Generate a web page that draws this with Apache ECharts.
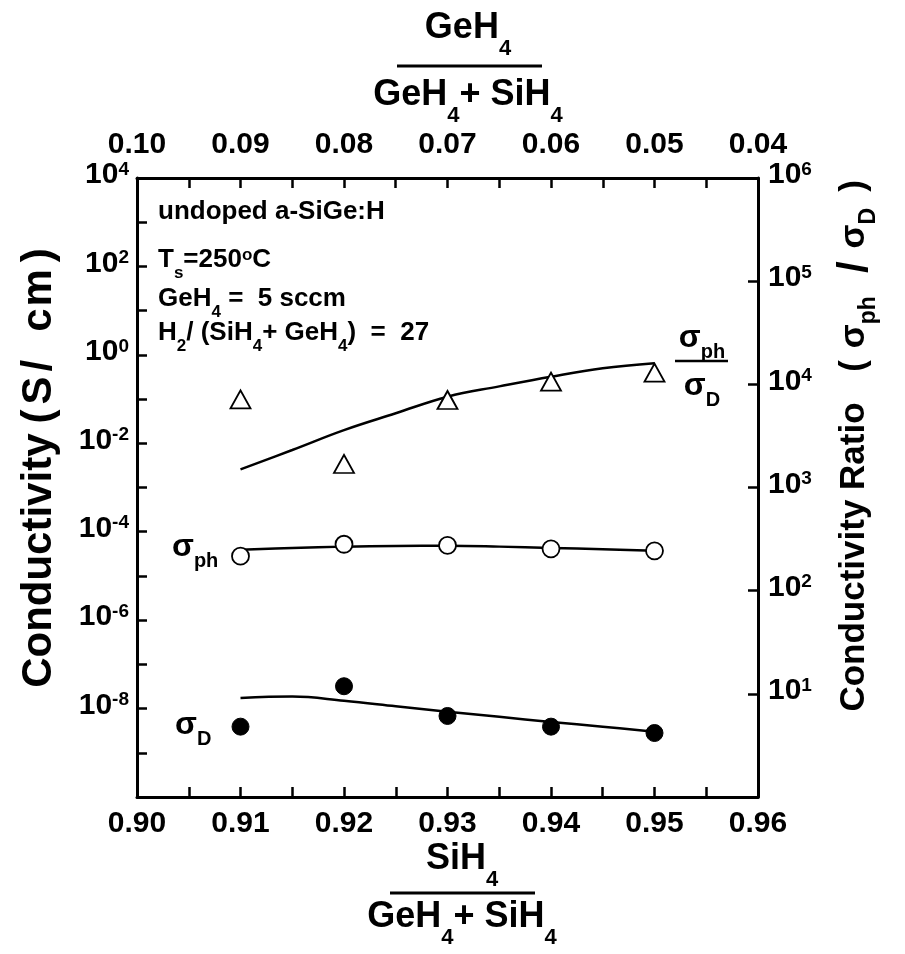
<!DOCTYPE html>
<html><head><meta charset="utf-8">
<script src="https://cdn.jsdelivr.net/npm/echarts@6/dist/echarts.min.js"></script>
<style>html,body{margin:0;padding:0;background:#fff}#c{width:905px;height:954px}</style>
</head><body><div id="c"></div>
<script>
// ---- data ----
const xValues = [0.91, 0.92, 0.93, 0.94, 0.95];
const sigmaPh = [2.8e-5, 5.2e-5, 4.9e-5, 4.1e-5, 3.7e-5];
const sigmaD = [3.9e-9, 3.2e-8, 6.8e-9, 3.9e-9, 2.8e-9];
const ratioPts = [7160, 1690, 7050, 10600, 12970];
const fitX = [0.91, 0.915, 0.92, 0.925, 0.93, 0.935, 0.94, 0.945, 0.95];
const sigmaPhFit = [3.9e-5, 4.3e-5, 4.6e-5, 4.75e-5, 4.8e-5, 4.6e-5, 4.3e-5, 4.0e-5, 3.7e-5];
const sigmaDFit = [1.74e-8, 1.87e-8, 1.5e-8, 1.13e-8, 8.5e-9, 6.5e-9, 5.0e-9, 3.9e-9, 3.0e-9];
const ratioFit = [1500, 2310, 3600, 5240, 7590, 9550, 11860, 14300, 16000];
const bottomTicks = [0.90, 0.96, 0.01];
const topTicks = [0.04, 0.10, 0.01];

const FONT = '"Liberation Sans", Arial, Helvetica, sans-serif';
const pairs = (xs, ys) => xs.map((x, i) => [x, ys[i]]);
const base = { fontFamily: FONT, fontWeight: 'bold', color: '#000', fill: '#000' };
const S = (o) => Object.assign({}, base, o);

const supRich = {
  b: S({ fontSize: 30, lineHeight: 36, verticalAlign: 'top' }),
  s: S({ fontSize: 19, lineHeight: 18, verticalAlign: 'top' })
};
function powLabel(skip) {
  return function (v) {
    const e = Math.round(Math.log10(v));
    if (skip(e)) return '';
    return '{b|10}{s|' + e + '}';
  };
}
const axisLine = { show: true, onZero: false, lineStyle: { color: '#000', width: 3 } };
const tick = { show: true, inside: true, length: 10, lineStyle: { color: '#000', width: 2.5 } };
const minor = { show: true, splitNumber: 2, length: 10, lineStyle: { color: '#000', width: 2.5 } };

const annRich = {
  a: S({ fontSize: 26, verticalAlign: 'top' }),
  as: S({ fontSize: 17, verticalAlign: 'top', padding: [18, 0, 0, 0] }),
  ao: S({ fontSize: 17, verticalAlign: 'top' })
};
const titleRich = {
  t: S({ fontSize: 36, verticalAlign: 'top' }),
  ts: S({ fontSize: 22, verticalAlign: 'top', padding: [28, 0, 0, 0] })
};
const sigRich = {
  g: S({ fontSize: 32, verticalAlign: 'top' }),
  gs: S({ fontSize: 20, verticalAlign: 'top', padding: [20, 0, 0, 0] })
};
const rRich = {
  r: S({ fontSize: 35, verticalAlign: 'top' }),
  rc: S({ fontSize: 35, verticalAlign: 'top', padding: [0, 0, 0, 6] }),
  rb: S({ fontSize: 42, verticalAlign: 'top', padding: [-3, 13, 0, 13] }),
  rp: S({ fontSize: 35, verticalAlign: 'top', padding: [0, 12, 0, 0] }),
  rs: S({ fontSize: 23, verticalAlign: 'top', padding: [20, 10, 0, 0] })
};
const lp = (p) => S({ fontSize: 42, verticalAlign: 'top', padding: [0, 0, 0, p] });
const lRich = {
  l: S({ fontSize: 42, verticalAlign: 'top' }),
  c1: lp(10), c2: lp(5), c3: lp(5), c4: lp(28), c5: lp(2), c6: lp(7)
};
function txt(x, y, text, rich, align, vAlign, rotation) {
  return { type: 'text', x: x, y: y, rotation: rotation || 0, silent: true,
    style: { text: text, rich: rich, align: align, verticalAlign: vAlign, fill: '#000', font: 'bold 28px ' + FONT } };
}
function hline(x1, x2, y, w) {
  return { type: 'line', silent: true, shape: { x1: x1, y1: y, x2: x2, y2: y }, style: { stroke: '#000', lineWidth: w } };
}

const chart = echarts.init(document.getElementById('c'), null, { renderer: 'canvas' });
chart.setOption({
  animation: false,
  backgroundColor: '#fff',
  grid: { left: 137, right: 147, top: 178, bottom: 157 },
  xAxis: [
    { type: 'value', position: 'bottom', min: bottomTicks[0], max: bottomTicks[1], interval: bottomTicks[2],
      axisLine: axisLine, axisTick: tick, minorTick: minor, splitLine: { show: false },
      axisLabel: S({ fontSize: 30, margin: 12, formatter: v => v.toFixed(2) }) },
    { type: 'value', position: 'top', inverse: true, min: topTicks[0], max: topTicks[1], interval: topTicks[2],
      axisLine: axisLine, axisTick: tick, minorTick: minor, splitLine: { show: false },
      axisLabel: S({ fontSize: 30, margin: 18, formatter: v => v.toFixed(2) }) }
  ],
  yAxis: [
    { type: 'log', logBase: 10, position: 'left', min: 1e-10, max: 1e4, interval: 1,
      axisLine: axisLine, axisTick: tick, splitLine: { show: false },
      axisLabel: { margin: 8, interval: 0, formatter: powLabel(e => e % 2 !== 0 || e === -10), rich: supRich } },
    { type: 'log', logBase: 10, position: 'right', min: 1, max: 1e6, interval: 1,
      axisLine: axisLine, axisTick: tick, splitLine: { show: false },
      axisLabel: { margin: 10, interval: 0, formatter: powLabel(e => e === 0), rich: supRich } }
  ],
  series: [
    { type: 'line', xAxisIndex: 0, yAxisIndex: 0, data: pairs(fitX, sigmaPhFit), smooth: 0.4, showSymbol: false,
      lineStyle: { color: '#000', width: 2.5 }, silent: true, z: 2 },
    { type: 'line', xAxisIndex: 0, yAxisIndex: 0, data: pairs(fitX, sigmaDFit), smooth: 0.4, showSymbol: false,
      lineStyle: { color: '#000', width: 2.5 }, silent: true, z: 2 },
    { type: 'line', xAxisIndex: 0, yAxisIndex: 1, data: pairs(fitX, ratioFit), smooth: 0.4, showSymbol: false,
      lineStyle: { color: '#000', width: 2.5 }, silent: true, z: 2 },
    { type: 'scatter', xAxisIndex: 0, yAxisIndex: 0, data: pairs(xValues, sigmaPh), symbol: 'circle', symbolSize: 17,
      itemStyle: { color: '#fff', borderColor: '#000', borderWidth: 1.8, opacity: 1 }, z: 5 },
    { type: 'scatter', xAxisIndex: 0, yAxisIndex: 0, data: pairs(xValues, sigmaD), symbol: 'circle', symbolSize: 17,
      itemStyle: { color: '#000', borderColor: '#000', borderWidth: 1, opacity: 1 }, z: 5 },
    { type: 'scatter', xAxisIndex: 0, yAxisIndex: 1, data: pairs(xValues, ratioPts), symbol: 'triangle', symbolSize: [20, 18],
      itemStyle: { color: '#fff', borderColor: '#000', borderWidth: 1.8, opacity: 1 }, z: 5 }
  ],
  graphic: [
    // top fraction title
    txt(468, 10, '{t|GeH}{ts|4}', titleRich, 'center', 'top'),
    hline(397, 542, 66, 3),
    txt(468, 77, '{t|GeH}{ts|4}{t|+ SiH}{ts|4}', titleRich, 'center', 'top'),
    // bottom fraction title
    txt(462, 841, '{t|SiH}{ts|4}', titleRich, 'center', 'top'),
    hline(390, 535, 893, 3),
    txt(462, 899, '{t|GeH}{ts|4}{t|+ SiH}{ts|4}', titleRich, 'center', 'top'),
    // left title
    txt(18, 468, '{l|Conductivity}{c1|(}{c2|S}{c3|/}{c4|c}{c5|m}{c6|)}', lRich, 'center', 'top', Math.PI / 2),
    // right title
    txt(837, 557, '{r|Conductivity Ratio}', rRich, 'center', 'top', Math.PI / 2),
    txt(837, 276, '{rp|(}{r|σ}{rs|ph}{rb|/}{r|σ}{rs|D}{rc|)}', rRich, 'center', 'top', Math.PI / 2),
    // annotations
    txt(158, 199, '{a|undoped a-SiGe:H}', annRich, 'left', 'top'),
    txt(158, 247, '{a|T}{as|s}{a|=250}{ao|o}{a|C}', annRich, 'left', 'top'),
    txt(158, 286, '{a|GeH}{as|4}{a| =  5 sccm}', annRich, 'left', 'top'),
    txt(158, 320, '{a|H}{as|2}{a|/ (SiH}{as|4}{a|+ GeH}{as|4}{a|)  =  27}', annRich, 'left', 'top'),
    // series labels
    txt(172, 531, '{g|σ}{gs|ph}', sigRich, 'left', 'top'),
    txt(175, 709, '{g|σ}{gs|D}', sigRich, 'left', 'top'),
    txt(702, 322, '{g|σ}{gs|ph}', sigRich, 'center', 'top'),
    hline(675, 728, 361, 2.5),
    txt(702, 370, '{g|σ}{gs|D}', sigRich, 'center', 'top')
  ]
});
</script>
</body></html>
